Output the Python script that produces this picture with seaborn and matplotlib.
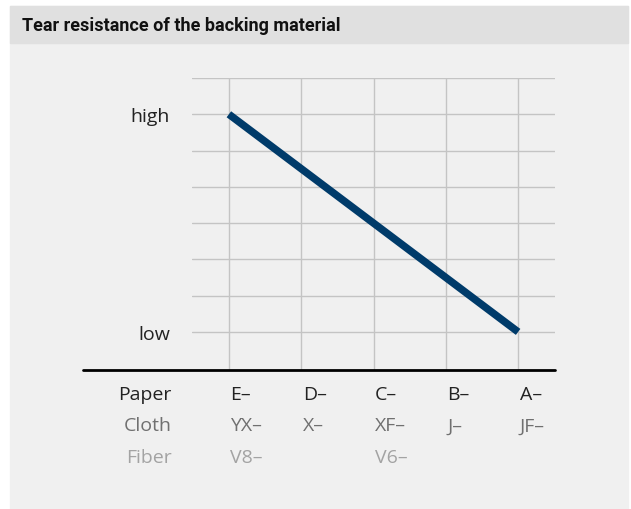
import matplotlib.pyplot as plt
import seaborn as sns
from matplotlib.patches import Rectangle

# Grades ordered from high to low tear resistance.
paper_grades = ["E–", "D–", "C–", "B–", "A–"]
cloth_grades = ["YX–", "X–", "XF–", "J–", "JF–"]
fiber_grades = ["V8–", "", "V6–", "", ""]
resistance = [6, 4.5, 3, 1.5, 0]
level_labels = {0: "low", 6: "high"}
row_names = ["Paper", "Cloth", "Fiber"]

title = "Tear resistance of the backing material"

navy = "#003b6a"
row_colors = ["#222222", "#707070", "#a3a3a3"]

sns.set_style("white")
plt.rcParams["font.family"] = ["Open Sans", "DejaVu Sans"]

fig = plt.figure(figsize=(6.31, 5.10), dpi=100)
fig.patch.set_facecolor("white")

# Panel background and header strip.
fig.patches.append(Rectangle((10 / 631, 0), 618 / 631, 503 / 510,
                             transform=fig.transFigure, color="#f0f0f0", zorder=-2))
fig.patches.append(Rectangle((10 / 631, (510 - 44) / 510), 618 / 631, 37 / 510,
                             transform=fig.transFigure, color="#e0e0e0", zorder=-1))
fig.text(22 / 631, (510 - 26) / 510, title, fontsize=13, fontweight="bold",
         color="#111111", va="center", ha="left", family=["Roboto", "DejaVu Sans"])

ax = fig.add_axes([192 / 631, (510 - 371) / 510, 363 / 631, 292 / 510])
ax.set_facecolor("none")

positions = list(range(len(paper_grades)))
sns.lineplot(x=positions, y=resistance, ax=ax, color=navy, linewidth=5.4,
             solid_capstyle="butt", zorder=3)

ax.set_xlim(-0.51, 4.51)
ax.set_ylim(-1.05, 7)
ax.set_xticks(positions)
ax.set_xticklabels([])
ax.set_yticks(range(0, 8))
ax.set_yticklabels([level_labels.get(v, "") for v in range(0, 8)],
                   fontsize=14, color="#222222")
ax.tick_params(length=0, pad=16)
ax.grid(True, color="#c4c4c4", linewidth=1)
for s in ax.spines.values():
    s.set_visible(False)

# Baseline running under the row labels.
ax.axhline(-1.05, xmin=-0.30, xmax=1.0, color="black", linewidth=2, clip_on=False)

rows = [paper_grades, cloth_grades, fiber_grades]
row_y = [-1.71, -2.58, -3.46]
for name, grades, y, c in zip(row_names, rows, row_y, row_colors):
    ax.text(-0.79, y, name, ha="right", va="center", fontsize=14, color=c, clip_on=False)
    for x, g in zip(positions, grades):
        ax.text(x + 0.02, y, g, ha="left", va="center", fontsize=14, color=c, clip_on=False)

fig.savefig("out.png", dpi=100)
